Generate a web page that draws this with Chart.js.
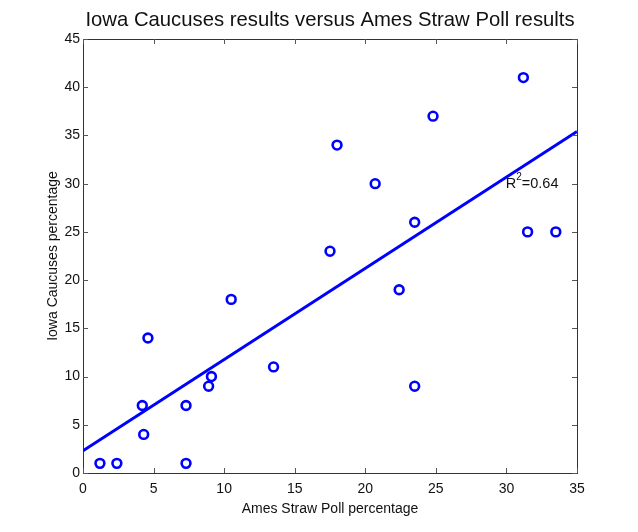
<!DOCTYPE html>
<html>
<head>
<meta charset="utf-8">
<script src="https://cdn.jsdelivr.net/npm/chart.js@4/dist/chart.umd.min.js"></script>
<style>
  html, body { margin: 0; padding: 0; background: #fff; }
  #wrap { width: 638px; height: 532px; }
</style>
</head>
<body>
<div id="wrap"><canvas id="scatter"></canvas></div>
<script>
const amesPct = [1.2, 2.4, 7.3, 4.3, 4.2, 7.3, 4.6, 8.9, 9.1, 10.5, 13.5,
                 17.5, 18.0, 20.7, 22.4, 23.5, 23.5, 24.8, 31.2, 31.5, 33.5];
const iowaPct = [1, 1, 1, 4, 7, 7, 14, 9, 10, 18, 11,
                 23, 34, 30, 19, 26, 9, 37, 41, 25, 25];
const fitX = [0, 35];
const fitY = [2.3, 35.4];
const xTicks = [0, 5, 10, 15, 20, 25, 30, 35];
const yTicks = [0, 5, 10, 15, 20, 25, 30, 35, 40, 45];
const rLabel = { x: 29.95, y: 30.0, text: '=0.64' };

const points = amesPct.map((v, i) => ({ x: v, y: iowaPct[i] }));
const fitLine = fitX.map((v, i) => ({ x: v, y: fitY[i] }));

const FONT = '"Liberation Sans", Arial, sans-serif';

// matlab style: ticks pointing inward on all four sides + the R^2 note
const matlabBox = {
  id: 'matlabBox',
  afterDraw(chart) {
    const { ctx, chartArea: a, scales } = chart;
    ctx.save();
    ctx.strokeStyle = '#555';
    ctx.lineWidth = 1;
    ctx.beginPath();
    xTicks.forEach(t => {
      const px = Math.round(scales.x.getPixelForValue(t)) + 0.5;
      ctx.moveTo(px, a.bottom); ctx.lineTo(px, a.bottom - 5);
      ctx.moveTo(px, a.top); ctx.lineTo(px, a.top + 5);
    });
    yTicks.forEach(t => {
      const py = Math.round(scales.y.getPixelForValue(t)) + 0.5;
      ctx.moveTo(a.left, py); ctx.lineTo(a.left + 5, py);
      ctx.moveTo(a.right, py); ctx.lineTo(a.right - 5, py);
    });
    ctx.stroke();

    const lx = scales.x.getPixelForValue(rLabel.x);
    const ly = scales.y.getPixelForValue(rLabel.y);
    ctx.fillStyle = '#111';
    ctx.textBaseline = 'middle';
    ctx.font = '14.5px ' + FONT;
    ctx.fillText('R', lx, ly);
    const w = ctx.measureText('R').width;
    ctx.font = '10px ' + FONT;
    ctx.fillText('2', lx + w, ly - 6);
    const w2 = ctx.measureText('2').width;
    ctx.font = '14.5px ' + FONT;
    ctx.fillText(rLabel.text, lx + w + w2, ly);
    ctx.restore();
  }
};

const config = {
  type: 'scatter',
  data: {
    datasets: [
      {
        label: 'fit',
        type: 'line',
        data: fitLine,
        borderColor: '#0000ff',
        borderWidth: 3,
        pointRadius: 0,
        fill: false
      },
      {
        label: 'states',
        data: points,
        borderColor: '#0000ff',
        backgroundColor: 'rgba(0,0,0,0)',
        borderWidth: 2.6,
        pointRadius: 4.4,
        pointHoverRadius: 4.4
      }
    ]
  },
  options: {
    responsive: true,
    maintainAspectRatio: false,
    animation: false,
    layout: { padding: { left: 45, bottom: 14, top: 0, right: 0 } },
    plugins: {
      legend: { display: false },
      tooltip: { enabled: false }
    },
    scales: {
      x: {
        type: 'linear',
        position: 'bottom',
        min: 0, max: 35,
        afterBuildTicks: s => { s.ticks = xTicks.map(v => ({ value: v })); },
        afterFit: s => { s.height = 45; },
        ticks: { color: '#111', font: { family: FONT, size: 14 }, padding: 8, maxRotation: 0 },
        grid: { display: false, drawTicks: false },
        border: { display: true, color: '#333', width: 1 },
        title: { display: true, text: 'Ames Straw Poll percentage', color: '#111',
                 font: { family: FONT, size: 14 }, padding: 0 }
      },
      y: {
        type: 'linear',
        position: 'left',
        min: 0, max: 45,
        afterBuildTicks: s => { s.ticks = yTicks.map(v => ({ value: v })); },
        afterFit: s => { s.width = 38; },
        ticks: { color: '#111', font: { family: FONT, size: 14 }, padding: 3 },
        grid: { display: false, drawTicks: false },
        border: { display: true, color: '#333', width: 1 },
        title: { display: true, text: 'Iowa Caucuses percentage', color: '#111',
                 font: { family: FONT, size: 14 }, padding: 0 }
      },
      x2: {
        type: 'linear',
        position: 'top',
        min: 0, max: 35,
        afterFit: s => { s.height = 39; },
        ticks: { display: false },
        grid: { display: false, drawTicks: false },
        border: { display: true, color: '#333', width: 1 },
        title: { display: true, text: 'Iowa Caucuses results versus Ames Straw Poll results',
                 color: '#111', font: { family: FONT, size: 20.3 }, padding: { top: 8 } }
      },
      y2: {
        type: 'linear',
        position: 'right',
        min: 0, max: 45,
        afterFit: s => { s.width = 61; },
        ticks: { display: false },
        grid: { display: false, drawTicks: false },
        border: { display: true, color: '#333', width: 1 }
      }
    }
  },
  plugins: [matlabBox]
};

const ctx = document.getElementById('scatter').getContext('2d');
const scatterChart = new Chart(ctx, config);
</script>
</body>
</html>
